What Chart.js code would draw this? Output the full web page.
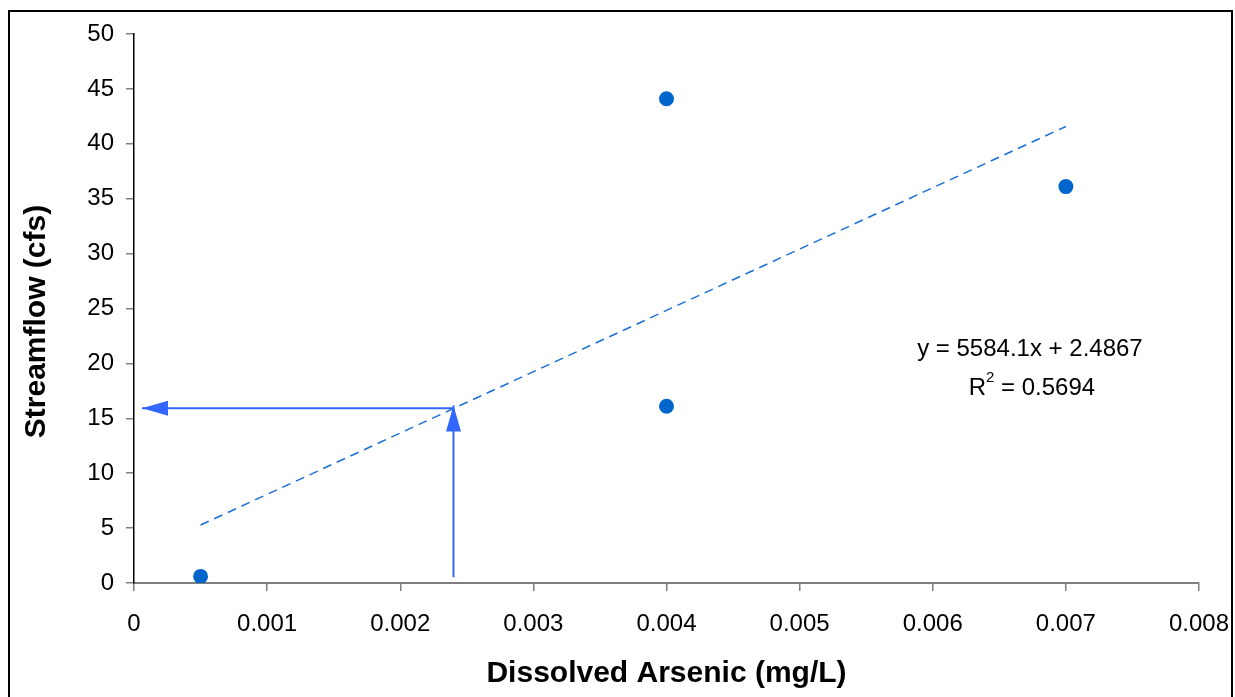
<!DOCTYPE html>
<html>
<head>
<meta charset="utf-8">
<script src="https://cdn.jsdelivr.net/npm/chart.js@4.4.1/dist/chart.umd.min.js"></script>
<style>
  html, body { margin: 0; padding: 0; background: #fff; }
  #wrap { width: 1235px; height: 697px; }
</style>
</head>
<body>
<div id="wrap"><canvas id="chart" width="1235" height="697"></canvas></div>
<script>
// measured samples (dissolved arsenic vs streamflow)
const arsenic = [0.0005, 0.004, 0.004, 0.007];
const streamflow = [0.6, 44.1, 16.1, 36.1];

// linear trendline as drawn, read at its two ends
const trendX = [0.0005, 0.007];
const trendY = [5.28, 41.58];

// reading arrows: up from x axis to the trendline, then left to the y axis
const arrowUpX = [0.0024, 0.0024];
const arrowUpY = [0.53, 16.17];
const arrowLeftX = [0.0024, 0.00006];
const arrowLeftY = [15.92, 15.92];

const xTicks = ['0', '0.001', '0.002', '0.003', '0.004', '0.005', '0.006', '0.007', '0.008'];
const yTicks = ['0', '5', '10', '15', '20', '25', '30', '35', '40', '45', '50'];

const xTitle = 'Dissolved Arsenic (mg/L)';
const yTitle = 'Streamflow (cfs)';
const eqLine = 'y = 5584.1x + 2.4867';
const r2Value = ' = 0.5694';

const FONT = "'Liberation Sans', Arial, sans-serif";

function toPoints(xs, ys) {
  return xs.map((x, i) => ({ x, y: ys[i] }));
}

const framePlugin = {
  id: 'frame',
  afterDraw(chart) {
    const ctx = chart.ctx;
    ctx.save();
    ctx.strokeStyle = '#000';
    ctx.lineWidth = 2;
    ctx.strokeRect(9, 11, 1223, 720);
    ctx.restore();
  }
};

const arrowPlugin = {
  id: 'arrowHeads',
  afterDatasetsDraw(chart) {
    const ctx = chart.ctx;
    chart.data.datasets.forEach((ds, i) => {
      if (!ds.arrow) return;
      const pts = chart.getDatasetMeta(i).data;
      const a = pts[pts.length - 2], b = pts[pts.length - 1];
      const ang = Math.atan2(b.y - a.y, b.x - a.x);
      const len = 26, half = 7.5;
      ctx.save();
      ctx.translate(b.x, b.y);
      ctx.rotate(ang);
      ctx.fillStyle = ds.borderColor;
      ctx.beginPath();
      ctx.moveTo(0, 0);
      ctx.lineTo(-len, -half);
      ctx.lineTo(-len, half);
      ctx.closePath();
      ctx.fill();
      ctx.restore();
    });
  }
};

// y title sits a little below the plot centre in the original
const yTitlePlugin = {
  id: 'yTitle',
  afterDraw(chart) {
    const ctx = chart.ctx;
    const a = chart.chartArea;
    ctx.save();
    ctx.translate(37, (a.top + a.bottom) / 2 + 13);
    ctx.rotate(-Math.PI / 2);
    ctx.font = 'bold 30px ' + FONT;
    ctx.fillStyle = '#000';
    ctx.textAlign = 'center';
    ctx.textBaseline = 'middle';
    ctx.fillText(yTitle, 0, 0);
    ctx.restore();
  }
};

const equationPlugin = {
  id: 'equation',
  afterDraw(chart) {
    const ctx = chart.ctx;
    const xs = chart.scales.x, ys = chart.scales.y;
    const cx = xs.getPixelForValue(0.00673);
    const by = ys.getPixelForValue(20.7);
    ctx.save();
    ctx.fillStyle = '#000';
    ctx.textBaseline = 'alphabetic';
    ctx.font = '24px ' + FONT;
    ctx.textAlign = 'center';
    ctx.fillText(eqLine, cx, by);

    // R² line, centred as a whole
    const wR = ctx.measureText('R').width;
    const wRest = ctx.measureText(r2Value).width;
    ctx.font = '15px ' + FONT;
    const w2 = ctx.measureText('2').width;
    const total = wR + w2 + wRest;
    const x0 = cx + 2 - total / 2;
    const by2 = by + 39;
    ctx.textAlign = 'left';
    ctx.font = '24px ' + FONT;
    ctx.fillText('R', x0, by2);
    ctx.font = '15px ' + FONT;
    ctx.fillText('2', x0 + wR, by2 - 13);
    ctx.font = '24px ' + FONT;
    ctx.fillText(r2Value, x0 + wR + w2, by2);
    ctx.restore();
  }
};

new Chart(document.getElementById('chart'), {
  type: 'scatter',
  data: {
    datasets: [
      {
        label: 'Samples',
        data: toPoints(arsenic, streamflow),
        backgroundColor: '#0066CC',
        borderColor: '#0066CC',
        pointRadius: 7.5,
        pointHoverRadius: 7.5,
        borderWidth: 0,
        order: 0
      },
      {
        label: 'Trend',
        data: toPoints(trendX, trendY),
        showLine: true,
        borderColor: '#1a6fd6',
        borderWidth: 1.5,
        borderDash: [9, 6],
        pointRadius: 0,
        order: 1
      },
      {
        label: 'Up',
        data: toPoints(arrowUpX, arrowUpY),
        showLine: true,
        borderColor: '#3366FF',
        borderWidth: 2,
        pointRadius: 0,
        arrow: true,
        order: 2
      },
      {
        label: 'Left',
        data: toPoints(arrowLeftX, arrowLeftY),
        showLine: true,
        borderColor: '#3366FF',
        borderWidth: 2,
        pointRadius: 0,
        arrow: true,
        order: 2
      }
    ]
  },
  options: {
    responsive: false,
    devicePixelRatio: 1,
    animation: false,
    layout: { padding: { left: 0, top: 34, right: 36, bottom: 0 } },
    plugins: {
      legend: { display: false },
      tooltip: { enabled: false }
    },
    scales: {
      x: {
        type: 'linear',
        min: 0,
        max: 0.008,
        afterFit: (s) => { s.height = 114; s.paddingLeft = 0; s.paddingRight = 0; },
        afterBuildTicks: (s) => { s.ticks = xTicks.map(v => ({ value: parseFloat(v) })); },
        ticks: {
          color: '#000',
          font: { family: FONT, size: 24 },
          padding: 19,
          maxRotation: 0,
          callback: (v, i) => xTicks[i]
        },
        grid: { drawOnChartArea: false, drawTicks: true, tickLength: 8, color: '#808080', lineWidth: 1.5 },
        border: { color: '#808080', width: 2 },
        title: {
          display: true,
          text: xTitle,
          color: '#000',
          font: { family: FONT, size: 30, weight: 'bold' },
          padding: { top: 5, bottom: 5 }
        }
      },
      y: {
        type: 'linear',
        min: 0,
        max: 50,
        afterFit: (s) => { s.width = 134; s.paddingTop = 0; s.paddingBottom = 0; },
        afterBuildTicks: (s) => { s.ticks = yTicks.map(v => ({ value: parseFloat(v) })); },
        ticks: {
          color: '#000',
          font: { family: FONT, size: 24 },
          padding: 12,
          callback: (v, i) => yTicks[i]
        },
        grid: { drawOnChartArea: false, drawTicks: true, tickLength: 8, color: '#808080', lineWidth: 1.5 },
        border: { color: '#000', width: 1.5 },
        title: { display: false }
      }
    }
  },
  plugins: [arrowPlugin, equationPlugin, yTitlePlugin, framePlugin]
});
</script>
</body>
</html>
